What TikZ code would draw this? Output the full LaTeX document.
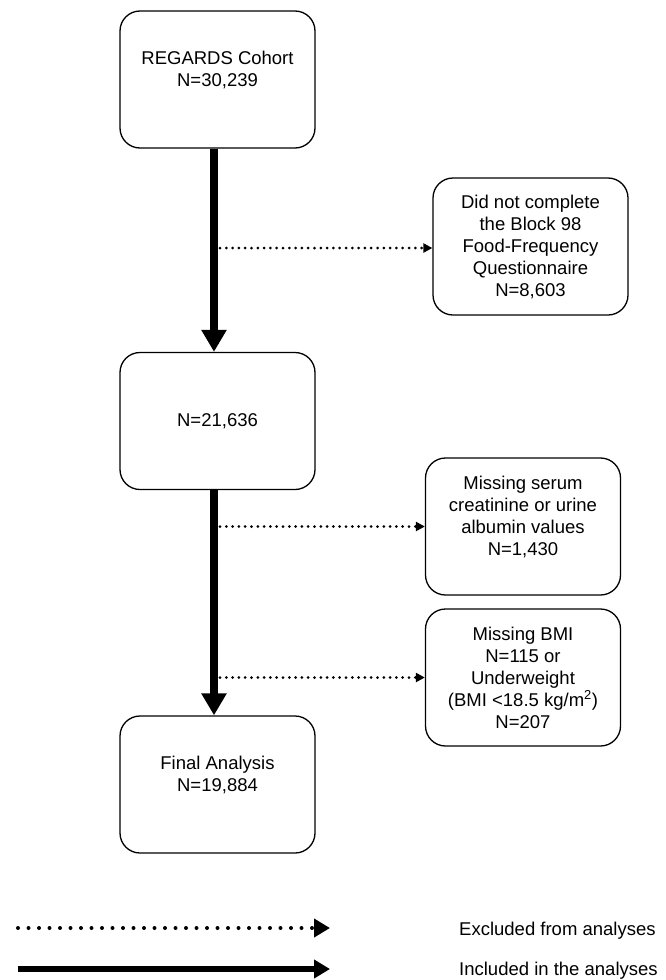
\documentclass[tikz,border=0pt]{standalone}
\usepackage{fontspec}
\setmainfont{Liberation Sans}
\usetikzlibrary{arrows.meta}

\begin{document}
\begin{tikzpicture}[x=1pt,y=-1pt,
stage/.style={draw,line width=1.3pt,rounded corners=20pt,minimum width=195pt,minimum height=137pt,inner sep=0pt,align=center,font=\fontsize{18.5}{22}\selectfont},
incl/.style={line width=8.5pt,-{Triangle[width=24pt,length=22pt]}},
excl/.style={line width=3pt,line cap=round,dash pattern=on 0pt off 6.3pt,-{Triangle[width=9pt,length=9pt]}},
keytext/.style={anchor=base west,inner sep=0pt,font=\fontsize{18.5}{22}\selectfont}]

\useasboundingbox (0,0) rectangle (665,980);

\node[stage] (cohort) at (217.5,79.5) {REGARDS Cohort\\N=30,239\\\mbox{}};
\node[stage] (eligible) at (217.5,421) {N=21,636};
\node[stage] (final) at (217.5,784.5) {Final Analysis\\N=19,884\\\mbox{}};

\node[stage] (ffq) at (530.5,246.5) {Did not complete\\the Block 98\\Food-Frequency\\Questionnaire\\N=8,603};
\node[stage] (serum) at (523,526.5) {Missing serum\\creatinine or urine\\albumin values\\N=1,430\\\mbox{}};
\node[stage] (bmi) at (523,677.5) {Missing BMI\\N=115 or\\Underweight\\(BMI <18.5 kg/m\textsuperscript{2})\\N=207};

\draw[incl] ([xshift=-3.5pt]cohort.south) -- ([xshift=-3.5pt]eligible.north);
\draw[incl] ([xshift=-3.5pt]eligible.south) -- ([xshift=-3.5pt]final.north);

\foreach \y/\b in {248/ffq,526.5/serum,677.5/bmi}
{
\coordinate (x\b) at (220,\y);
\draw[excl] (x\b) -- (x\b -| \b.west);
}

\coordinate (exS) at (18,928);
\coordinate (exE) at (330,928);
\coordinate (inS) at (18,969);
\coordinate (inE) at (330,969);
\draw[line width=4pt,line cap=round,dash pattern=on 0pt off 10.5pt,-{Triangle[width=18pt,length=16pt]}] (exS) -- (exE);
\draw[line width=6pt,-{Triangle[width=18pt,length=16pt]}] (inS) -- (inE);
\node[keytext] (exlabel) at (459,935) {Excluded from analyses};
\node[keytext] (inlabel) at (459,975) {Included in the analyses};
\end{tikzpicture}
\end{document}
